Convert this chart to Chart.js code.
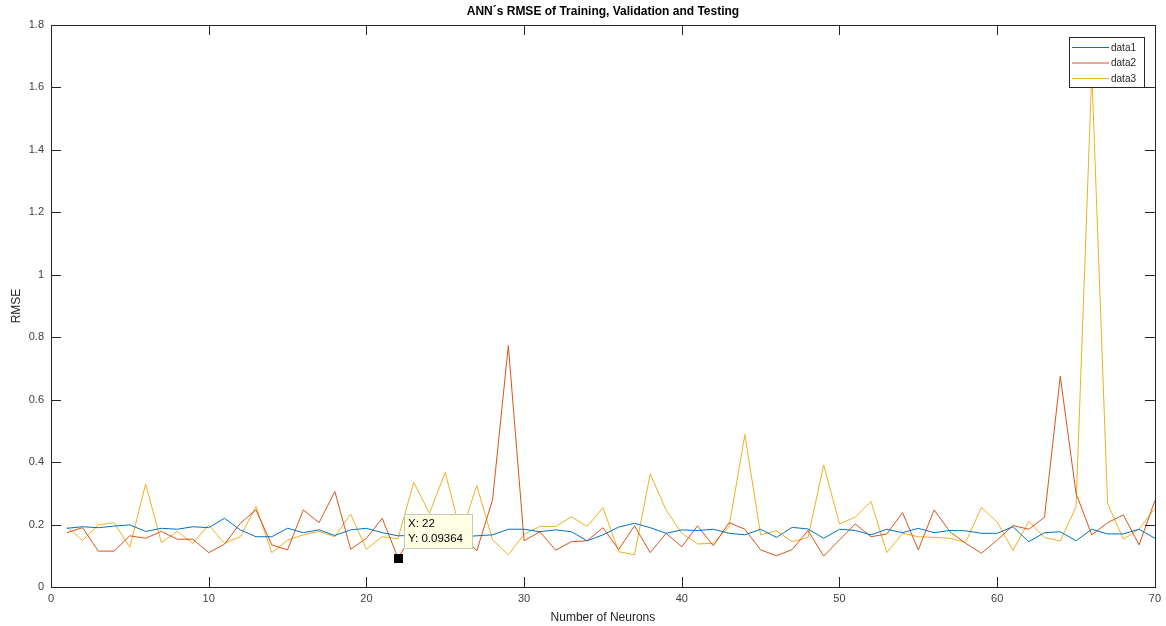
<!DOCTYPE html>
<html><head><meta charset="utf-8">
<script src="https://cdn.jsdelivr.net/npm/chart.js@4"></script>
<style>html,body{margin:0;padding:0;background:#fff}canvas{display:block}</style>
</head><body>
<canvas id="c" width="1166" height="626"></canvas>
<script>
const neurons = [1,2,3,4,5,6,7,8,9,10,11,12,13,14,15,16,17,18,19,20,21,22,23,24,25,26,27,28,29,30,31,32,33,34,35,36,37,38,39,40,41,42,43,44,45,46,47,48,49,50,51,52,53,54,55,56,57,58,59,60,61,62,63,64,65,66,67,68,69,70];
const data1 = [0.188,0.193,0.190,0.195,0.199,0.178,0.188,0.185,0.193,0.190,0.220,0.183,0.161,0.161,0.188,0.174,0.183,0.165,0.183,0.188,0.174,0.164,0.165,0.160,0.160,0.160,0.164,0.167,0.185,0.185,0.177,0.183,0.177,0.148,0.167,0.192,0.204,0.190,0.172,0.183,0.181,0.185,0.172,0.167,0.185,0.159,0.191,0.186,0.156,0.185,0.181,0.167,0.185,0.174,0.188,0.174,0.181,0.180,0.172,0.172,0.193,0.145,0.174,0.177,0.148,0.185,0.170,0.170,0.185,0.156];
const data2 = [0.174,0.190,0.115,0.115,0.164,0.156,0.178,0.153,0.153,0.110,0.137,0.204,0.247,0.135,0.119,0.247,0.206,0.306,0.121,0.156,0.220,0.09364,0.170,0.160,0.180,0.170,0.116,0.279,0.773,0.148,0.177,0.118,0.145,0.148,0.190,0.120,0.196,0.110,0.172,0.129,0.196,0.132,0.206,0.185,0.119,0.100,0.120,0.181,0.099,0.151,0.202,0.161,0.170,0.238,0.119,0.247,0.177,0.140,0.108,0.150,0.197,0.185,0.223,0.675,0.300,0.167,0.206,0.231,0.135,0.277];
const data3 = [0.193,0.149,0.199,0.206,0.127,0.330,0.142,0.178,0.140,0.199,0.140,0.161,0.258,0.110,0.150,0.167,0.178,0.161,0.234,0.121,0.161,0.155,0.335,0.236,0.367,0.170,0.325,0.151,0.103,0.169,0.194,0.194,0.225,0.194,0.254,0.113,0.103,0.362,0.247,0.172,0.138,0.140,0.194,0.488,0.167,0.180,0.145,0.158,0.391,0.202,0.224,0.274,0.110,0.172,0.161,0.159,0.156,0.143,0.255,0.208,0.117,0.210,0.159,0.147,0.257,1.650,0.268,0.153,0.185,0.252];
const seriesNames = ['data1','data2','data3'];
const seriesColors = ['#0072BD','#D95319','#EDB120'];
const xTicks = [0,10,20,30,40,50,60,70];
const yTicks = [0,0.2,0.4,0.6,0.8,1,1.2,1.4,1.6,1.8];
const titleText = 'ANN\u00b4s RMSE of Training, Validation and Testing';
const xLabel = 'Number of Neurons';
const yLabel = 'RMSE';
const tipIndex = 21; // neuron 22 on data2

const FONT = '"Liberation Sans", Arial, Helvetica, sans-serif';
const allData = [data1, data2, data3];

const decor = {
  id: 'decor',
  afterDraw(chart) {
    const ctx = chart.ctx, a = chart.chartArea;
    const xs = chart.scales.x, ys = chart.scales.y;
    ctx.save();
    // box
    ctx.strokeStyle = '#262626'; ctx.lineWidth = 1;
    ctx.strokeRect(Math.round(a.left)+0.5, Math.round(a.top)+0.5, Math.round(a.right-a.left), Math.round(a.bottom-a.top));
    // inward ticks
    ctx.strokeStyle = '#262626';
    ctx.beginPath();
    xTicks.forEach(v => {
      const px = Math.round(xs.getPixelForValue(v)) + 0.5;
      ctx.moveTo(px, a.bottom); ctx.lineTo(px, a.bottom - 10);
      ctx.moveTo(px, a.top); ctx.lineTo(px, a.top + 10);
    });
    yTicks.forEach(v => {
      const py = Math.round(ys.getPixelForValue(v)) + 0.5;
      ctx.moveTo(a.left, py); ctx.lineTo(a.left + 10, py);
      ctx.moveTo(a.right, py); ctx.lineTo(a.right - 10, py);
    });
    ctx.stroke();
    // title
    ctx.fillStyle = '#000';
    ctx.font = 'bold 12px ' + FONT;
    ctx.textAlign = 'center'; ctx.textBaseline = 'middle';
    ctx.fillText(titleText, (a.left + a.right)/2, 12);
    // axis labels
    ctx.fillStyle = '#262626';
    ctx.font = '12px ' + FONT;
    ctx.fillText(xLabel, (a.left + a.right)/2, 618);
    ctx.save();
    ctx.translate(17, (a.top + a.bottom)/2);
    ctx.rotate(-Math.PI/2);
    ctx.fillText(yLabel, 0, 0);
    ctx.restore();
    // legend
    const lx = 1069, ly = 37, lw = 75, lh = 50;
    ctx.fillStyle = '#fff';
    ctx.fillRect(lx, ly, lw, lh);
    ctx.strokeStyle = '#262626';
    ctx.strokeRect(lx+0.5, ly+0.5, lw, lh);
    ctx.font = '10px ' + FONT;
    ctx.textAlign = 'left';
    seriesNames.forEach((n, i) => {
      const yy = ly + 10 + i*15.5;
      ctx.strokeStyle = seriesColors[i]; ctx.lineWidth = 1;
      ctx.beginPath(); ctx.moveTo(lx + 3, yy + 0.5); ctx.lineTo(lx + 40, yy + 0.5); ctx.stroke();
      ctx.fillStyle = '#262626';
      ctx.fillText(n, lx + 42, yy + 1);
    });
    // data tip
    const mx = xs.getPixelForValue(neurons[tipIndex]);
    const my = ys.getPixelForValue(data2[tipIndex]);
    ctx.fillStyle = '#000';
    ctx.fillRect(Math.round(mx) - 4, Math.round(my) - 4, 9, 9);
    const bx = Math.round(mx) + 6, by = Math.round(my) - 44, bw = 68, bh = 34;
    ctx.fillStyle = '#FFFFE4';
    ctx.fillRect(bx, by, bw, bh);
    ctx.strokeStyle = '#C8C8B4';
    ctx.strokeRect(bx + 0.5, by + 0.5, bw, bh);
    ctx.fillStyle = '#000';
    ctx.font = '11.5px ' + FONT;
    ctx.fillText('X: ' + neurons[tipIndex], bx + 4, by + 10);
    ctx.fillText('Y: ' + data2[tipIndex], bx + 4, by + 25);
    ctx.restore();
  }
};

new Chart(document.getElementById('c'), {
  type: 'line',
  data: {
    datasets: allData.map((arr, k) => ({
      label: seriesNames[k],
      data: neurons.map((x, i) => ({x: x, y: arr[i]})),
      borderColor: seriesColors[k],
      borderWidth: 1,
      pointRadius: 0,
      tension: 0,
      fill: false
    }))
  },
  options: {
    responsive: false,
    animation: false,
    events: [],
    layout: { padding: { left: 0, right: 10, top: 25, bottom: 0 } },
    plugins: { legend: { display: false }, tooltip: { enabled: false }, title: { display: false } },
    scales: {
      x: {
        type: 'linear', min: 0, max: 70,
        afterBuildTicks(s) { s.ticks = xTicks.map(v => ({value: v})); },
        ticks: { padding: 5, color: '#404040', font: { size: 11, family: FONT }, maxRotation: 0 },
        grid: { display: false, drawTicks: false },
        border: { display: false },
        afterFit(s) { s.height = 39; }
      },
      y: {
        type: 'linear', min: 0, max: 1.8,
        afterBuildTicks(s) { s.ticks = yTicks.map(v => ({value: v})); },
        ticks: { padding: 7, color: '#404040', font: { size: 11, family: FONT },
          callback: v => String(Math.round(v * 10) / 10) },
        grid: { display: false, drawTicks: false },
        border: { display: false },
        afterFit(s) { s.width = 51; }
      }
    }
  },
  plugins: [decor]
});
</script>
</body></html>
